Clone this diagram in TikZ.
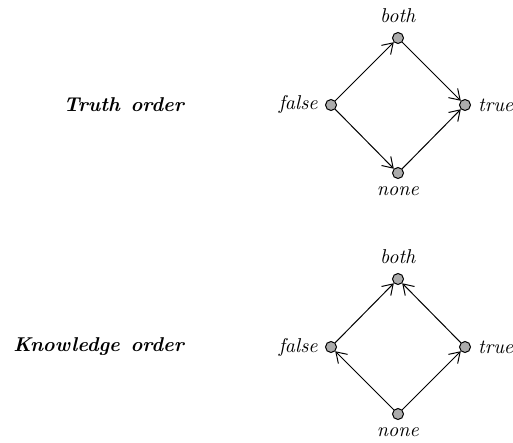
\documentclass[tikz,border=0pt]{standalone}
\usepackage{amsmath}
\usetikzlibrary{arrows.meta}

\tikzset{
  val/.style={circle, draw, fill=gray!65, inner sep=0pt, minimum size=5.5pt},
  ord/.style={anchor=east, font=\bfseries\itshape},
  >={Straight Barb[length=5pt,width=6.5pt]},
}

\begin{document}
\begin{tikzpicture}[x=0.5pt, y=-0.5pt, line width=0.5pt]
\useasboundingbox (0,0) rectangle (513,443);
% truth order
\node[ord] (tord) at (191,105) {Truth\hspace{5.4pt}order};
\node[val, label={[label distance=1pt]above:{\textit{both}}}]  (tb) at (398,38)  {};
\node[val, label=left:{\textit{false}}]  (tf) at (331,105) {};
\node[val, label=right:{\textit{true}}]  (tt) at (465,105) {};
\node[val, label=below:{\textit{none}}]  (tn) at (398,173) {};
\draw[->] (tf) -- (tb);
\draw[->] (tf) -- (tn);
\draw[->] (tb) -- (tt);
\draw[->] (tn) -- (tt);
% knowledge order
\node[ord] (kord) at (191,347) {Knowledge\hspace{5.4pt}order};
\node[val, label={[label distance=1pt]above:{\textit{both}}}]  (kb) at (398,279) {};
\node[val, label=left:{\textit{false}}]  (kf) at (331,347) {};
\node[val, label=right:{\textit{true}}]  (kt) at (465,347) {};
\node[val, label=below:{\textit{none}}]  (kn) at (398,414) {};
\draw[->] (kf) -- (kb);
\draw[->] (kt) -- (kb);
\draw[->] (kn) -- (kf);
\draw[->] (kn) -- (kt);
\end{tikzpicture}
\end{document}
